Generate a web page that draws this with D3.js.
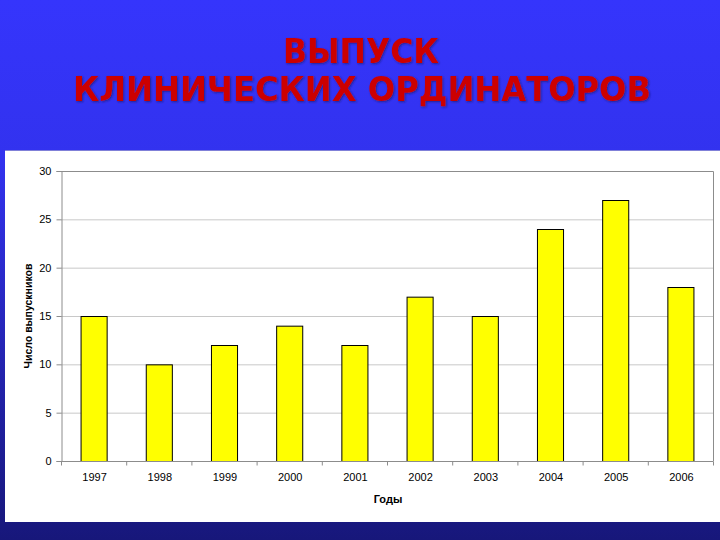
<!DOCTYPE html>
<html><head><meta charset="utf-8">
<script src="https://cdn.jsdelivr.net/npm/d3@7"></script>
<style>html,body{margin:0;padding:0;background:#fff;}svg{display:block;}</style>
</head><body>
<script>
const years = ["1997","1998","1999","2000","2001","2002","2003","2004","2005","2006"];
const graduates = [15,10,12,14,12,17,15,24,27,18];
const yTicks = [0,5,10,15,20,25,30];
const titleLines = ["ВЫПУСК","КЛИНИЧЕСКИХ ОРДИНАТОРОВ"];
const yAxisTitle = "Число выпускников";
const xAxisTitle = "Годы";

const W = 720, H = 540;
const svg = d3.select("body").append("svg").attr("width", W).attr("height", H);
const defs = svg.append("defs");
const g = defs.append("linearGradient").attr("id","bg").attr("x1",0).attr("y1",0).attr("x2",0).attr("y2",1);
g.append("stop").attr("offset","0%").attr("stop-color","#3535fc");
g.append("stop").attr("offset","30%").attr("stop-color","#3232ee");
g.append("stop").attr("offset","100%").attr("stop-color","#17177a");
svg.append("rect").attr("width",W).attr("height",H).attr("fill","url(#bg)");

const f = defs.append("filter").attr("id","sh").attr("x","-5%").attr("y","-20%").attr("width","110%").attr("height","140%");
f.append("feDropShadow").attr("dx",1).attr("dy",1).attr("stdDeviation",1).attr("flood-color","#1a1a60").attr("flood-opacity",0.7);

// title
const tt = svg.append("g").attr("fill","#cc0000").attr("font-family","'Liberation Sans Narrow','Arial Narrow','DejaVu Sans Condensed',sans-serif")
  .attr("font-weight","bold").attr("font-size",33).attr("text-anchor","middle").attr("filter","url(#sh)");
tt.append("text").attr("x",361).attr("y",63).attr("textLength",156).attr("lengthAdjust","spacingAndGlyphs").text(titleLines[0]);
tt.append("text").attr("x",362).attr("y",101).attr("textLength",578).attr("lengthAdjust","spacingAndGlyphs").text(titleLines[1]);

// white panel
svg.append("rect").attr("x",5).attr("y",150).attr("width",W-5).attr("height",372).attr("fill","#ffffff");
svg.append("line").attr("x1",5).attr("x2",W).attr("y1",150.5).attr("y2",150.5).attr("stroke","#8080d8").attr("stroke-width",1);

const L = 61, R = 713, T = 171, B = 461;
const x = d3.scaleBand().domain(years).range([L,R]).paddingInner(0.6).paddingOuter(0.3);
const xb = d3.scaleBand().domain(years).range([L,R]);
const y = d3.scaleLinear().domain([0,30]).range([B,T]);

// gridlines
svg.append("g").selectAll("line").data(yTicks.filter(d=>d>0 && d<30)).join("line")
  .attr("x1",L).attr("x2",R).attr("y1",d=>y(d)+0.5).attr("y2",d=>y(d)+0.5)
  .attr("stroke","#c8c8c8").attr("stroke-width",1);
// plot border top/right
svg.append("path").attr("d",`M${L},${T+0.5}H${R+0.5}V${B}`).attr("fill","none").attr("stroke","#8c8c8c").attr("stroke-width",1);

// bars
svg.append("g").selectAll("rect").data(years).join("rect")
  .attr("x",(d)=>x(d)+0.5).attr("y",(d,i)=>y(graduates[i])+0.5)
  .attr("width",x.bandwidth()).attr("height",(d,i)=>B-y(graduates[i]))
  .attr("fill","#ffff00").attr("stroke","#000").attr("stroke-width",1);

// y axis
const ya = d3.axisLeft(y).tickValues(yTicks).tickSize(5).tickPadding(5);
const yg = svg.append("g").attr("transform",`translate(${L+0.5},0)`).call(ya);
yg.select(".domain").attr("stroke","#8c8c8c");
yg.selectAll(".tick line").attr("stroke","#8c8c8c");
yg.selectAll(".tick text").attr("font-family","'Liberation Sans',Arial,sans-serif").attr("font-size",11).attr("fill","#000");

// x axis
const xg = svg.append("g").attr("transform",`translate(0,${B+0.5})`);
xg.append("line").attr("x1",L).attr("x2",R+0.5).attr("stroke","#8c8c8c");
xg.selectAll("line.t").data(years.concat(["end"])).join("line").attr("class","t")
  .attr("x1",(d,i)=>L+i*xb.bandwidth()+0.5).attr("x2",(d,i)=>L+i*xb.bandwidth()+0.5)
  .attr("y1",0).attr("y2",4).attr("stroke","#8c8c8c");
xg.selectAll("text").data(years).join("text")
  .attr("x",d=>xb(d)+xb.bandwidth()/2+1).attr("y",19)
  .attr("text-anchor","middle").attr("font-family","'Liberation Sans',Arial,sans-serif").attr("font-size",11).attr("fill","#000")
  .text(d=>d);

// axis titles
svg.append("text").attr("x",388).attr("y",503).attr("text-anchor","middle")
  .attr("font-family","'Liberation Sans',Arial,sans-serif").attr("font-size",11).attr("font-weight","bold").text(xAxisTitle);
svg.append("text").attr("transform","translate(32,316) rotate(-90)").attr("text-anchor","middle")
  .attr("font-family","'Liberation Sans',Arial,sans-serif").attr("font-size",10.5).attr("font-weight","bold").text(yAxisTitle);
</script>
</body></html>
